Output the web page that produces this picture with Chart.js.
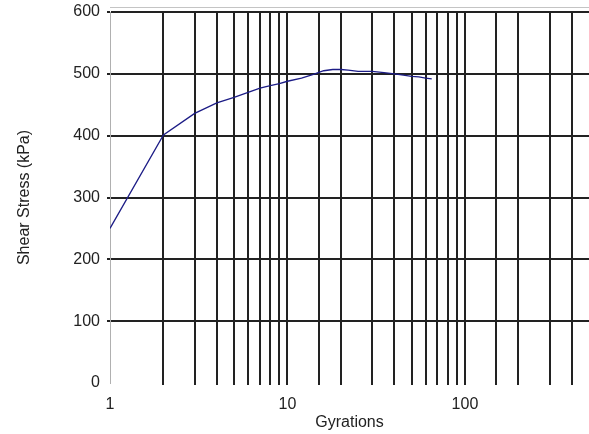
<!DOCTYPE html>
<html>
<head>
<meta charset="utf-8">
<script src="https://cdn.jsdelivr.net/npm/chart.js@4.4.1/dist/chart.umd.min.js"></script>
<style>
  html, body { margin: 0; padding: 0; background: #fff; }
  #wrap { width: 589px; height: 434px; }
</style>
</head>
<body>
<div id="wrap"><canvas id="myChart"></canvas></div>
<script>
// gyration count and the shear stress measured at it
const gyrations = [1, 2, 3, 4, 5, 6, 7, 8, 9, 10, 12, 14, 16, 18, 20, 22, 25, 30, 35, 40, 45, 50, 55, 60, 65];
const shearStress = [250, 401, 436, 453, 462, 470, 477, 481, 484, 488, 493, 499, 505, 507, 507, 506, 504, 504, 502, 500, 498, 496, 495, 493, 492];
const xLabels = [1, 10, 100];   // only the decades get a label
const yTicks = [0, 100, 200, 300, 400, 500, 600];

// thin grey frame line just above the plot, like the spreadsheet plot area
const plotFrame = {
    id: 'plotFrame',
    beforeDraw(chart) {
        const { ctx, chartArea } = chart;
        ctx.save();
        ctx.strokeStyle = '#c4c4c4';
        ctx.lineWidth = 1;
        ctx.beginPath();
        ctx.moveTo(chartArea.left, chartArea.top - 4.5);
        ctx.lineTo(chartArea.right, chartArea.top - 4.5);
        ctx.stroke();
        ctx.restore();
    }
};

document.addEventListener("DOMContentLoaded", function() {
    const ctx = document.getElementById('myChart').getContext('2d');

    const points = gyrations.map((g, i) => ({ x: g, y: shearStress[i] }));

    const axisFont = { family: 'Liberation Sans, Arial, sans-serif', size: 16 };

    const config = {
        type: 'line',
        data: {
            datasets: [{
                label: 'Shear Stress',
                data: points,
                borderColor: '#1c1c86',
                borderWidth: 1.3,
                pointRadius: 0,
                tension: 0,
                fill: false
            }]
        },
        options: {
            responsive: true,
            maintainAspectRatio: false,
            animation: false,
            layout: { padding: { top: 12, right: 0, bottom: 0, left: 0 } },
            plugins: {
                legend: { display: false },
                tooltip: { enabled: false }
            },
            scales: {
                x: {
                    type: 'logarithmic',
                    min: 1,
                    max: 500,
                    afterFit: (scale) => {
                        scale.height = 51;
                        scale.paddingLeft = 0;
                        scale.paddingRight = 0;
                    },
                    grid: {
                        // x=1 is the grey frame and 500 is the cut-off edge: no black line there
                        color: (c) => (c.tick && (c.tick.value === 1 || c.tick.value === 500)) ? 'rgba(0,0,0,0)' : '#222',
                        lineWidth: 2,
                        drawTicks: true,
                        tickLength: 2
                    },
                    border: { display: false },
                    ticks: {
                        autoSkip: false,
                        maxRotation: 0,
                        padding: 10,
                        color: '#222',
                        font: axisFont,
                        callback: function(value) {
                            return xLabels.includes(value) ? String(value) : '';
                        }
                    },
                    title: {
                        display: true,
                        text: 'Gyrations',
                        color: '#222',
                        font: axisFont,
                        padding: { top: 0, bottom: 2 }
                    }
                },
                y: {
                    min: 0,
                    max: 600,
                    afterFit: (scale) => {
                        scale.width = 110;
                        scale.paddingTop = 0;
                        scale.paddingBottom = 0;
                    },
                    afterBuildTicks: (scale) => { scale.ticks = yTicks.map(v => ({ value: v })); },
                    grid: {
                        // no black line along zero
                        color: (c) => (c.tick && c.tick.value === 0) ? 'rgba(0,0,0,0)' : '#222',
                        lineWidth: 2,
                        tickLength: 3
                    },
                    border: {
                        display: true,
                        color: '#b0b0b0',
                        width: 1
                    },
                    ticks: {
                        padding: 7,
                        color: '#222',
                        font: axisFont
                    },
                    title: {
                        display: true,
                        text: 'Shear Stress (kPa)',
                        color: '#222',
                        font: axisFont,
                        padding: { top: 15, bottom: 0 }
                    }
                }
            }
        },
        plugins: [plotFrame]
    };

    const myChart = new Chart(ctx, config);
});
</script>
</body>
</html>
